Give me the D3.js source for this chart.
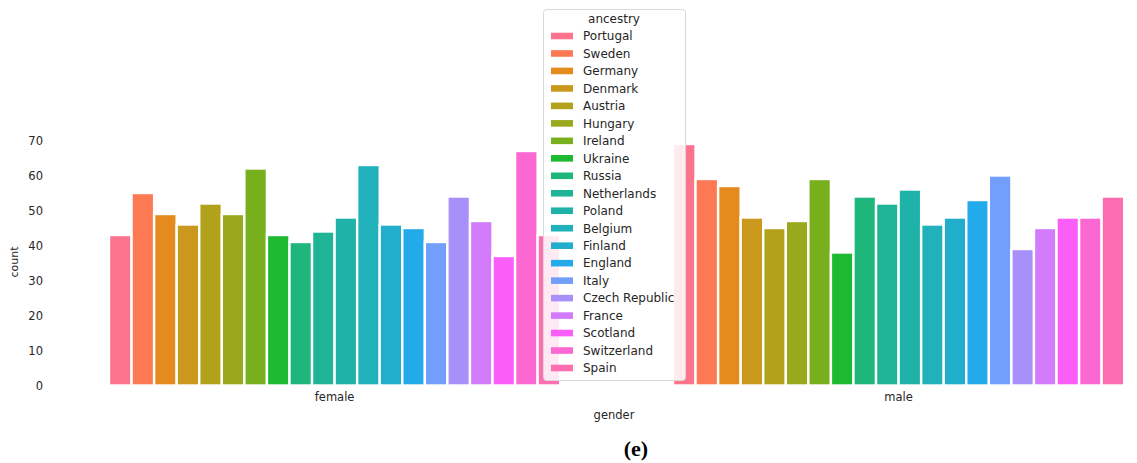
<!DOCTYPE html>
<html>
<head>
<meta charset="utf-8">
<script src="https://cdn.jsdelivr.net/npm/d3@7"></script>
<style>
  body { margin: 0; background: #fff; }
  .sans { font-family: "DejaVu Sans", sans-serif; fill: #262626; }
</style>
</head>
<body>
<div id="chart"></div>
<script>
// data
const genders = ["female", "male"]
const ancestries = ["Portugal", "Sweden", "Germany", "Denmark", "Austria", "Hungary", "Ireland",
  "Ukraine", "Russia", "Netherlands", "Poland", "Belgium", "Finland", "England", "Italy",
  "Czech Republic", "France", "Scotland", "Switzerland", "Spain"]
const femaleCounts = [43, 55, 49, 46, 52, 49, 62, 43, 41, 44, 48, 63, 46, 45, 41, 54, 47, 37, 67, 43]
const maleCounts = [69, 59, 57, 48, 45, 47, 59, 38, 54, 52, 56, 46, 48, 53, 60, 39, 45, 48, 48, 54]
const yTicks = [0, 10, 20, 30, 40, 50, 60, 70]

const counts = { female: femaleCounts, male: maleCounts }
const rows = genders.flatMap(g => ancestries.map((a, i) => ({ gender: g, ancestry: a, count: counts[g][i] })))

// husl palette like seaborn's husl_palette(20)
const M = [[3.2406, -1.5372, -0.4986], [-0.9689, 1.8758, 0.0415], [0.0557, -0.2040, 1.0570]]
const refU = 0.19784, refV = 0.46834, kappa = 903.3

function maxChroma(L, H) {
  const hrad = H * Math.PI / 180, sinH = Math.sin(hrad), cosH = Math.cos(hrad)
  const sub1 = Math.pow(L + 16, 3) / 1560896
  const sub2 = sub1 > 0.008856 ? sub1 : L / kappa
  let result = Infinity
  for (const [m1, m2, m3] of M) {
    const top = (0.99915 * m1 + 1.05122 * m2 + 1.14460 * m3) * sub2
    const rbottom = 0.86330 * m3 - 0.17266 * m2
    const lbottom = 0.12949 * m3 - 0.38848 * m1
    const bottom = (rbottom * sinH + lbottom * cosH) * sub2
    for (const t of [0, 1]) {
      const C = L * (top - 1.05122 * t) / (bottom + 0.17266 * sinH * t)
      if (C > 0 && C < result) result = C
    }
  }
  return result
}

function huslToRgb(H, S, L) {
  const C = maxChroma(L, H) / 100 * S
  const hrad = H * Math.PI / 180
  const U = Math.cos(hrad) * C, V = Math.sin(hrad) * C
  const Y = L > 8 ? Math.pow((L + 16) / 116, 3) : L / kappa
  const varU = U / (13 * L) + refU, varV = V / (13 * L) + refV
  const X = -(9 * Y * varU) / ((varU - 4) * varV - varU * varV)
  const Z = (9 * Y - 15 * varV * Y - varV * X) / (3 * varV)
  const lin = M.map(r => r[0] * X + r[1] * Y + r[2] * Z)
  const rgb = lin.map(c => c <= 0.0031308 ? 12.92 * c : 1.055 * Math.pow(c, 1 / 2.4) - 0.055)
    .map(c => Math.max(0, Math.min(1, c)) * 255)
  return d3.rgb(...rgb)
}

const palette = ancestries.map((a, i) => {
  const h = ((i / ancestries.length + 0.01) % 1) * 359
  return huslToRgb(h, 0.97 * 99, 0.665 * 99).formatHex()
})
const color = d3.scaleOrdinal().domain(ancestries).range(palette)

const width = 1137
const height = 463

const svg = d3.select("#chart").append("svg").attr("width", width).attr("height", height)
svg.append("rect").attr("width", width).attr("height", height).attr("fill", "#fff")

const x = d3.scaleBand().domain(genders).range([52.6, 1180.6]).paddingInner(0.2).paddingOuter(0.1)
const xInner = d3.scaleBand().domain(ancestries).range([0, x.bandwidth()])
const y = d3.scaleLinear().domain([0, 70]).range([385.5, 140.5])

// bars
svg.append("g").selectAll("rect")
  .data(rows)
  .join("rect")
  .attr("x", d => x(d.gender) + xInner(d.ancestry))
  .attr("y", d => y(d.count))
  .attr("width", xInner.bandwidth())
  .attr("height", d => y(0) - y(d.count))
  .attr("fill", d => color(d.ancestry))
  .attr("stroke", "#fff")
  .attr("stroke-width", 2.4)

// y axis, no spine and no tick marks
const yAxis = svg.append("g").attr("transform", "translate(43,0)")
  .call(d3.axisLeft(y).tickValues(yTicks).tickSize(0).tickPadding(0))
yAxis.select(".domain").remove()
yAxis.selectAll("text").attr("class", "sans").style("font-size", "11.5px")

const xAxis = svg.append("g").attr("transform", "translate(0,385.5)")
  .call(d3.axisBottom(x).tickSize(0).tickPadding(7))
xAxis.select(".domain").remove()
xAxis.selectAll("text").attr("class", "sans").style("font-size", "11.5px")

svg.append("text")
  .attr("class", "sans")
  .attr("transform", "translate(18,262) rotate(-90)")
  .attr("text-anchor", "middle")
  .style("font-size", "11px")
  .text("count")

svg.append("text")
  .attr("class", "sans")
  .attr("x", 614).attr("y", 419)
  .attr("text-anchor", "middle")
  .style("font-size", "11.5px")
  .text("gender")

svg.append("text")
  .attr("x", 636).attr("y", 456)
  .attr("text-anchor", "middle")
  .attr("font-family", "'Liberation Serif', 'Times New Roman', serif")
  .attr("font-weight", "bold")
  .attr("font-size", 22)
  .attr("fill", "#000")
  .text("(e)")

// legend
const legend = svg.append("g")
legend.append("rect")
  .attr("x", 543.5).attr("y", 9.5)
  .attr("width", 142).attr("height", 371)
  .attr("rx", 3)
  .attr("fill", "#fff").attr("fill-opacity", 0.85)
  .attr("stroke", "#d8d8d8")

legend.append("text")
  .attr("class", "sans")
  .attr("x", 614).attr("y", 23)
  .attr("text-anchor", "middle")
  .style("font-size", "12px")
  .text("ancestry")

const ly = d3.scalePoint().domain(ancestries).range([36, 368])
const items = legend.selectAll("g.item")
  .data(ancestries)
  .join("g")
  .attr("class", "item")
  .attr("transform", d => `translate(0,${ly(d)})`)
items.append("rect")
  .attr("x", 551).attr("y", -3.3)
  .attr("width", 22).attr("height", 6.6)
  .attr("fill", d => color(d))
items.append("text")
  .attr("class", "sans")
  .attr("x", 583).attr("y", 4.3)
  .style("font-size", "12px")
  .text(d => d)
</script>
</body>
</html>
